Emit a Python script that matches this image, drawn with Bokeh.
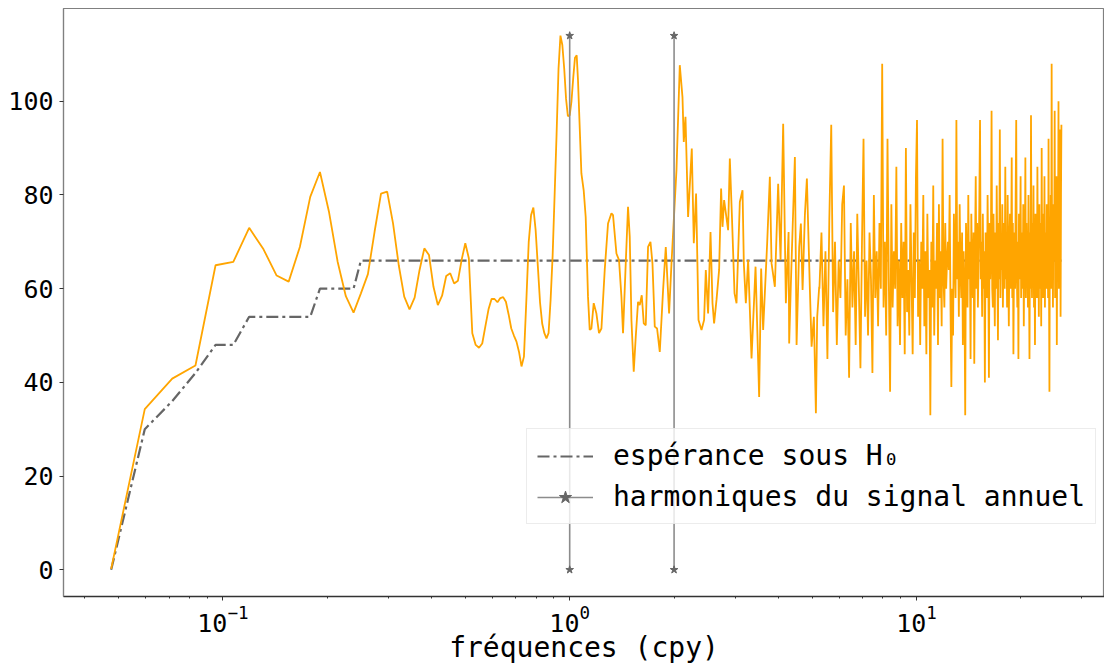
import numpy as np
from bokeh.plotting import figure
from bokeh.models import Range1d, Legend, LegendItem
from bokeh.embed import file_html
from bokeh.resources import INLINE

FONT = "DejaVu Sans Mono"
RES = 84.0  # frequency bin denominator (cpy = k / RES)

# ---- periodogram, low-frequency bins k = 4 .. 88 ----
low_k = list(range(4, 89))
low_power = [0.2, 34.3, 40.8, 43.6, 65.0, 65.7, 73.0, 68.4, 62.8, 61.5,
             68.9, 79.6, 84.9, 76.3, 65.7, 58.4, 54.9, 59.0, 63.1, 72.2,
             80.3, 80.7, 73.9, 65.0, 58.3, 55.6, 58.1, 64.0, 68.6, 67.2,
             60.4, 56.5, 58.5, 62.7, 63.3, 61.1, 61.7, 66.2, 69.7, 66.5,
             50.5, 48.0, 47.4, 48.3, 52.0, 55.6, 57.8, 57.8, 57.1, 58.0,
             58.2, 57.2, 54.5, 51.5, 50.0, 48.7, 46.5, 43.4, 45.5, 57.6,
             70.0, 75.7, 77.3, 72.5, 64.7, 57.0, 52.5, 50.5, 49.4, 50.5,
             57.6, 67.0, 80.0, 93.0, 107.0, 114.0, 112.0, 107.0, 100.5, 96.8,
             97.0, 100.0, 105.0, 109.3, 109.8]

# ---- periodogram, mid frequencies (read vertices) ----
mid_freq = [1.0567, 1.0808, 1.0974, 1.1121, 1.1293, 1.1422, 1.1552, 1.1729, 1.1942, 1.2150,
            1.2346, 1.2619, 1.2899, 1.3193, 1.3334, 1.3639, 1.3876, 1.4099, 1.4250, 1.4508,
            1.4731, 1.4899, 1.5068, 1.5300, 1.5505, 1.5744, 1.5923, 1.6136, 1.6352, 1.6571,
            1.6826, 1.7097, 1.7326, 1.7593, 1.7864, 1.8188, 1.8591, 1.8927, 1.9347, 1.9658,
            2.0320, 2.0771, 2.1147, 2.1330, 2.1573, 2.1949, 2.2495, 2.2796, 2.3147, 2.3519,
            2.3993, 2.4411, 2.4689, 2.5068, 2.5472, 2.5812, 2.6088, 2.6508, 2.6970, 2.7330,
            2.7586, 2.7881, 2.8632, 2.8958, 2.9345, 2.9876, 3.0276, 3.0947, 3.1507, 3.1781,
            3.2207, 3.2702, 3.3449, 3.4351, 3.5183, 3.5654, 3.6130, 3.7104, 3.7775, 3.8205,
            3.9052, 3.9917, 4.0560, 4.1267, 4.2014, 4.2775, 4.2946, 4.3434, 4.4604, 4.5111,
            4.5897, 4.6416, 4.6943, 4.7666, 4.8305, 4.9277, 4.9838, 5.0606, 5.1284, 5.1729,
            5.2421]
mid_power = [104.5, 84.6, 81.0, 75.3, 58.3, 51.2, 51.5, 56.9, 54.7, 50.5,
             51.5, 64.0, 73.9, 76.1, 75.7, 67.5, 66.1, 58.3, 50.5, 65.4,
             77.5, 71.1, 53.3, 42.3, 49.7, 57.2, 56.5, 58.6, 52.6, 52.2,
             68.9, 70.0, 65.4, 51.9, 51.5, 46.5, 59.7, 68.9, 54.7, 65.4,
             85.3, 107.7, 100.9, 91.3, 96.7, 75.3, 89.9, 69.7, 80.3, 53.3,
             51.2, 53.3, 64.0, 54.7, 72.1, 56.9, 52.6, 57.6, 64.0, 81.4,
             73.2, 78.9, 72.5, 87.8, 76.1, 59.0, 56.9, 78.5, 81.0, 65.4,
             56.9, 66.1, 45.1, 64.7, 36.9, 64.3, 51.2, 69.7, 83.9, 65.4,
             60.4, 82.4, 66.1, 95.2, 56.9, 72.1, 48.3, 61.1, 88.1, 48.0,
             68.9, 73.9, 59.7, 75.7, 83.5, 59.7, 47.6, 54.0, 33.4, 54.0,
             60.4]

# ---- periodogram, high frequencies: bins k = 441, 447, ... 2199 ----
high_k = list(range(441, 2200, 6))
high_power = [60, 72, 52, 68, 45, 75, 95, 55, 70, 48,
              66, 58, 78, 82, 50, 62, 41, 74, 56, 68,
              48, 76, 60, 43, 70, 92, 54, 66, 50, 72,
              62, 42, 80, 58, 68, 52, 74, 60, 108, 56,
              70, 50, 92, 62, 38, 78, 56, 68, 60, 86,
              52, 66, 48, 74, 58, 70, 46, 90, 55, 64,
              50, 78, 62, 46, 72, 58, 84, 96, 54, 66,
              48, 70, 60, 80, 52, 68, 46, 76, 58, 64,
              33, 70, 56, 82, 50, 66, 60, 74, 48, 78,
              58, 68, 52, 92, 62, 56, 74, 60, 66, 70,
              64, 80, 56, 39, 60, 50, 76, 66, 58, 96,
              62, 70, 54, 78, 64, 58, 72, 48, 68, 60,
              33, 74, 66, 56, 80, 62, 70, 45, 76, 64,
              58, 72, 44, 68, 84, 60, 74, 56, 66, 78,
              96, 62, 70, 54, 76, 60, 68, 40, 72, 64,
              58, 80, 66, 41, 74, 62, 70, 98, 60, 56,
              76, 64, 52, 72, 60, 82, 66, 49, 74, 62,
              94, 58, 70, 64, 78, 56, 68, 74, 60, 86,
              62, 72, 56, 80, 64, 52, 70, 76, 60, 68,
              88, 58, 74, 46, 66, 72, 60, 80, 96, 64,
              56, 70, 45, 76, 62, 68, 84, 58, 72, 64,
              60, 78, 52, 70, 66, 88, 58, 74, 62, 68,
              56, 80, 64, 45, 72, 60, 97, 66, 58, 74,
              62, 82, 56, 70, 48, 76, 64, 68, 58, 86,
              66, 72, 54, 78, 60, 68, 74, 52, 90, 64,
              70, 58, 76, 62, 84, 56, 72, 66, 60, 78,
              64, 70, 58, 92, 62, 38, 74, 66, 80, 60,
              108, 62, 72, 56, 78, 66, 70, 98, 58, 74,
              64, 84, 48, 70, 62, 76, 100, 60, 72, 66,
              94, 54, 80, 95]

# ---- expectation under H0 (step curve) ----
exp_k = [4, 5, 6, 7, 8, 9, 10, 15, 16, 20, 21, 2199]
exp_value = [0, 30, 36, 42, 48, 48, 54, 54, 60, 60, 66, 66]

# ---- annual-signal harmonics ----
harm_freq = [1.0, 2.0]
harm_low = [0.0, 0.0]
harm_high = [114.0, 114.0]

legend_labels = ["espérance sous H₀", "harmoniques du signal annuel"]
x_label = "fréquences (cpy)"

freq = np.concatenate([np.array(low_k) / RES, np.array(mid_freq), np.array(high_k) / RES])
power = np.concatenate([low_power, mid_power, high_power])
exp_freq = np.array(exp_k) / RES

p = figure(width=1104, height=666, x_axis_type="log",
           x_range=Range1d(0.0347, 34.85), y_range=Range1d(-5.7, 119.8),
           output_backend="svg", toolbar_location=None,
           min_border_left=63, min_border_top=8, min_border_right=0, min_border_bottom=69)
p.background_fill_color = "white"
p.border_fill_color = "white"
p.outline_line_color = "#808080"
p.outline_line_width = 1.2
p.xgrid.visible = False
p.ygrid.visible = False

r_exp = p.line(exp_freq, exp_value, line_color="#666666", line_width=2.2,
               line_dash="12 4 3 4")
p.line(freq, power, line_color="#FFA500", line_width=1.8)
r_seg = p.segment(x0=harm_freq, y0=harm_low, x1=harm_freq, y1=harm_high,
                  line_color="#8c8c8c", line_width=1.6)
r_star = p.scatter(harm_freq + harm_freq, harm_low + harm_high, marker="star",
                   size=8, fill_color="#666666", line_color="#666666")

# axes
p.xaxis.axis_label = x_label
p.xaxis.axis_label_text_font = FONT
p.xaxis.axis_label_text_font_size = "28px"
p.xaxis.axis_label_text_font_style = "normal"
p.xaxis.axis_label_text_color = "black"
p.xaxis.axis_label_standoff = -4
p.xaxis.axis_line_color = "#333333"
p.xaxis.axis_line_width = 1.3

for ax in (p.xaxis, p.yaxis):
    ax.major_label_text_font = FONT
    ax.major_label_text_font_size = "25px"
    ax.major_label_text_color = "black"
    ax.major_tick_out = 4
    ax.major_tick_in = 0
    ax.minor_tick_out = 2
    ax.minor_tick_in = 0
    ax.major_tick_line_color = "#333333"
    ax.minor_tick_line_color = "#333333"

p.xaxis.major_label_standoff = 4
p.yaxis.major_label_standoff = 6
p.yaxis.ticker = [0, 20, 40, 60, 80, 100]
p.yaxis.minor_tick_line_color = None
p.yaxis.axis_line_color = "#808080"
p.yaxis.axis_line_width = 1.2

legend = Legend(items=[LegendItem(label=legend_labels[0], renderers=[r_exp]),
                       LegendItem(label=legend_labels[1], renderers=[r_seg, r_star])],
                location=(463, 72))
legend.label_text_font = FONT
legend.label_text_font_size = "28px"
legend.label_text_color = "black"
legend.glyph_width = 56
legend.glyph_height = 32
legend.label_height = 32
legend.label_standoff = 20
legend.spacing = 8
legend.padding = 10
legend.margin = 0
legend.border_line_color = "#d9d9d9"
legend.border_line_width = 1.2
legend.background_fill_color = "white"
legend.background_fill_alpha = 0.8
p.add_layout(legend, "center")

open("out.html", "w").write(file_html(p, INLINE))
